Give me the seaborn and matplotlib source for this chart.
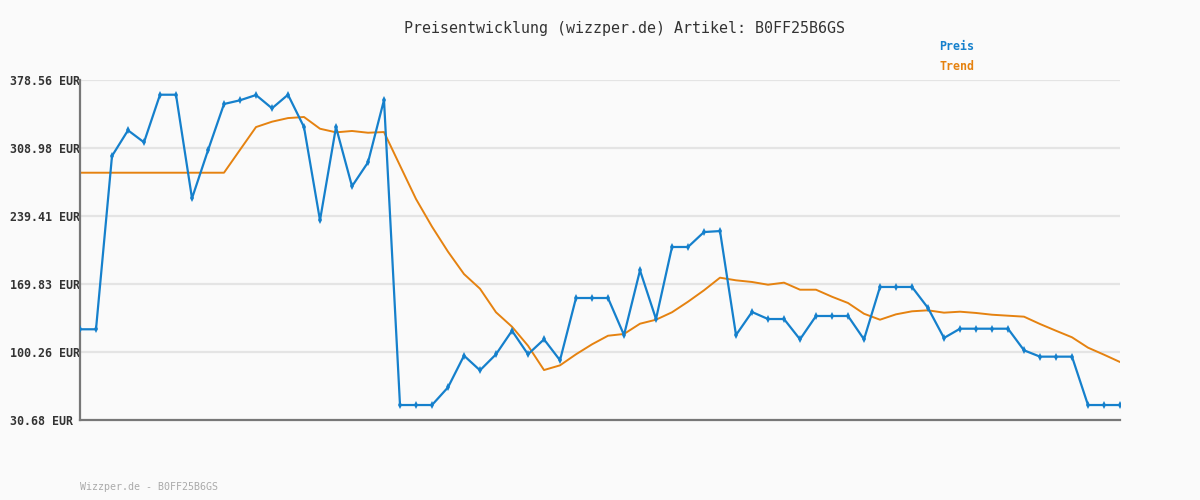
import numpy as np
import pandas as pd
import matplotlib
matplotlib.use("Agg")
import matplotlib.pyplot as plt
import seaborn as sns

# price history (EUR)
preis = [123.5, 123.5, 300.8, 327.1, 314.8, 363.5, 363.5, 257.5, 306.6, 354.0,
         357.8, 363.2, 349.6, 363.5, 330.4, 235.0, 330.4, 269.8, 294.3, 358.1,
         46.0, 46.0, 46.0, 64.1, 96.5, 81.5, 97.9, 122.0, 97.9, 113.2,
         91.8, 155.5, 155.5, 155.5, 117.6, 183.8, 134.0, 207.7, 207.7, 223.0,
         224.0, 117.6, 141.2, 134.0, 134.0, 113.2, 137.1, 137.1, 137.1, 113.2,
         166.8, 166.8, 166.8, 145.3, 114.6, 124.1, 124.1, 124.1, 124.1, 102.0,
         95.5, 95.5, 95.5, 46.0, 46.0, 46.0]

trend = [283.7, 283.7, 283.7, 283.7, 283.7, 283.7, 283.7, 283.7, 283.7, 283.7,
         307.1, 330.4, 335.9, 339.6, 340.7, 328.7, 325.0, 326.4, 324.6, 325.3,
         291.0, 256.8, 228.5, 202.9, 180.0, 165.0, 140.9, 126.1, 106.7, 81.8,
         86.6, 97.9, 108.1, 116.9, 118.7, 129.2, 133.3, 140.9, 151.7, 163.4,
         176.3, 173.6, 171.9, 169.1, 171.2, 164.0, 164.0, 156.8, 150.4, 139.4,
         133.3, 138.8, 141.9, 142.9, 140.5, 141.5, 140.2, 138.4, 137.4, 136.4,
         128.9, 122.0, 115.3, 104.7, 97.5, 90.0]

y_ticks = [30.68, 100.26, 169.83, 239.41, 308.98, 378.56]
tick_labels = ["30.68 EUR", "100.26 EUR", "169.83 EUR", "239.41 EUR", "308.98 EUR", "378.56 EUR"]

artikel = "B0FF25B6GS"
blue = "#1580cc"
orange = "#e58210"
bg = "#fafafa"

df = pd.DataFrame({"idx": np.arange(len(preis)), "preis": preis, "trend": trend})

sns.set_style("white")
plt.rcParams["font.family"] = ["DejaVu Sans Mono"]

fig = plt.figure(figsize=(12, 5), dpi=100, facecolor=bg)
ax = fig.add_axes([80 / 1200, 1 - 420 / 500, 1040 / 1200, 340 / 500])
ax.set_facecolor(bg)

# gridlines
for t in y_ticks[1:]:
    ax.axhline(t, color="#e4e4e4", lw=1.6, zorder=0)

sns.lineplot(data=df, x="idx", y="trend", ax=ax, color=orange, lw=1.4, zorder=2)
sns.lineplot(data=df, x="idx", y="preis", ax=ax, color=blue, lw=1.6,
             marker="d", markersize=4, markeredgewidth=0, zorder=3)

ax.set_xlim(0, len(preis) - 1)
ax.set_ylim(y_ticks[0], y_ticks[-1])
ax.set_xticks([])
ax.set_yticks(y_ticks)
ax.set_yticklabels(tick_labels, fontsize=8.4, fontweight="bold", color="#333333")
for lbl in ax.get_yticklabels():
    lbl.set_horizontalalignment("left")
ax.tick_params(axis="y", length=0, pad=50.4)
ax.set_xlabel("")
ax.set_ylabel("")

for side in ["top", "right"]:
    ax.spines[side].set_visible(False)
for side in ["left", "bottom"]:
    ax.spines[side].set_color("#777777")
    ax.spines[side].set_linewidth(1.6)

fig.text(624 / 1200, 1 - 28 / 500, f"Preisentwicklung (wizzper.de) Artikel: {artikel}",
         ha="center", va="center", fontsize=10.8, color="#333333")
fig.text(939 / 1200, 1 - 47 / 500, "Preis", ha="left", va="center",
         fontsize=8.4, fontweight="bold", color=blue)
fig.text(939 / 1200, 1 - 67 / 500, "Trend", ha="left", va="center",
         fontsize=8.4, fontweight="bold", color=orange)
fig.text(80 / 1200, 1 - 487 / 500, f"Wizzper.de - {artikel}", ha="left", va="center",
         fontsize=7.2, color="#aaaaaa")

fig.savefig("out.png", dpi=100, facecolor=bg)
